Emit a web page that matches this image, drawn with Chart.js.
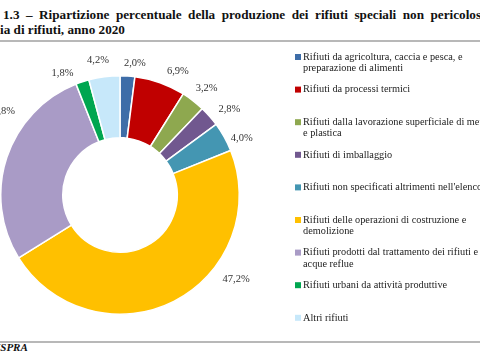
<!DOCTYPE html>
<html><head><meta charset="utf-8">
<script src="https://cdn.jsdelivr.net/npm/chart.js@4"></script>
<style>
html,body{margin:0;padding:0;background:#fff;}
#wrap{position:relative;width:480px;height:360px;overflow:hidden;font-family:"Liberation Serif","Times New Roman",serif;}
canvas{position:absolute;left:0;top:0;}
.t{position:absolute;white-space:nowrap;font-weight:bold;font-size:13.2px;color:#111;}
.hr{position:absolute;left:0;width:480px;height:1.5px;background:#b8b8b8;}
</style></head><body>
<div id="wrap">
<div class="t" style="left:3px;top:7px;word-spacing:3.2px;">1.3 – Ripartizione percentuale della produzione dei rifiuti speciali non pericolosi, per tipologia</div>
<div class="t" style="left:0px;top:22px;">ia di rifiuti, anno 2020</div>
<div class="hr" style="top:40px;"></div>
<div class="hr" style="top:341px;"></div>
<div class="t" style="left:-4px;top:341px;font-style:italic;font-size:11px;">ISPRA</div>
<canvas id="c" width="480" height="360"></canvas>
</div>
<script>
const categories = [
  ["Rifiuti da agricoltura, caccia e pesca, e", "preparazione di alimenti"],
  ["Rifiuti da processi termici"],
  ["Rifiuti dalla lavorazione superficiale di metalli", "e plastica"],
  ["Rifiuti di imballaggio"],
  ["Rifiuti non specificati altrimenti nell'elenco"],
  ["Rifiuti delle operazioni di costruzione e", "demolizione"],
  ["Rifiuti prodotti dal trattamento dei rifiuti e", "acque reflue"],
  ["Rifiuti urbani da attività produttive"],
  ["Altri rifiuti"]
];
const values = [2.0, 6.9, 3.2, 2.8, 4.0, 47.2, 27.8, 1.8, 4.2];
const valueLabels = ["2,0%", "6,9%", "3,2%", "2,8%", "4,0%", "47,2%", "27,8%", "1,8%", "4,2%"];
const colors = ["#3E6DA8", "#C00000", "#8EA84F", "#71588F", "#4496B2", "#FFC000", "#A99BC6", "#00A650", "#C7E8FA"];
// label placement tweaks (radius offset px, angle offset rad)
const labelRadius = [13, 17, 18, 20, 15, 24, 26, 15, 17];
const labelAngleShift = [0.05, 0.096, 0.023, 0.054, 0.073, -0.477, 0.297, -0.122, -0.03];

const labelPlugin = {
  id: 'outLabels',
  afterDatasetsDraw(chart) {
    const ctx = chart.ctx;
    const meta = chart.getDatasetMeta(0);
    ctx.save();
    ctx.font = '10.5px "Liberation Serif", serif';
    ctx.fillStyle = '#333';
    ctx.textAlign = 'center';
    ctx.textBaseline = 'middle';
    meta.data.forEach((arc, i) => {
      const p = arc.getProps(['x','y','startAngle','endAngle','outerRadius'], true);
      const a = (p.startAngle + p.endAngle) / 2 + labelAngleShift[i];
      const r = p.outerRadius + labelRadius[i];
      ctx.fillText(valueLabels[i], p.x + Math.cos(a) * r, p.y + Math.sin(a) * r);
    });
    ctx.restore();
  }
};
const legendPlugin = {
  id: 'sideLegend',
  afterDraw(chart) {
    const ctx = chart.ctx;
    ctx.save();
    ctx.font = '10.3px "Liberation Serif", serif';
    ctx.textBaseline = 'middle';
    categories.forEach((lines, i) => {
      const y = 57 + i * 32.6;
      ctx.fillStyle = colors[i];
      ctx.fillRect(295, y - 3, 6, 6);
      ctx.fillStyle = '#222';
      lines.forEach((ln, k) => ctx.fillText(ln, 303, y + k * 11.5));
    });
    ctx.restore();
  }
};

new Chart(document.getElementById('c'), {
  type: 'doughnut',
  data: {
    labels: categories,
    datasets: [{
      data: values,
      backgroundColor: colors,
      borderColor: '#ffffff',
      borderWidth: 1.5,
      hoverOffset: 0
    }]
  },
  options: {
    responsive: false,
    animation: false,
    cutout: '48%',
    layout: { padding: { left: 0, right: 240, top: 75, bottom: 45 } },
    plugins: { legend: { display: false }, tooltip: { enabled: false } }
  },
  plugins: [labelPlugin, legendPlugin]
});
</script>
</body></html>
